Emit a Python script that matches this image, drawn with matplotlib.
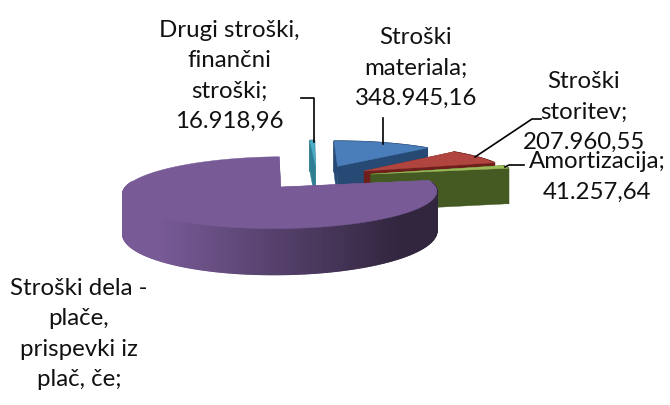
import numpy as np
import matplotlib
matplotlib.use('Agg')
import matplotlib.pyplot as plt
from matplotlib.colors import to_rgb

# values read from the labels, the labour slice has no readable number so it is estimated
names = ['Stroški materiala', 'Stroški storitev', 'Amortizacija', 'Stroški dela', 'Drugi stroški']
values = [348945.16, 207960.55, 41257.64, 2100000.0, 16918.96]

label_texts = ['Stroški\nmateriala;\n348.945,16', 'Stroški\nstoritev;\n207.960,55', 'Amortizacija;\n41.257,64',
               'Stroški dela -\nplače,\nprispevki iz\nplač, če;', 'Drugi stroški,\nfinančni\nstroški;\n16.918,96']
label_x = [416, 584, 597, 79, 229]
label_y = [68, 112, 177, 334, 76]

top_colors = ['#4a7ebb', '#b0453f', '#9bbb59', '#775a96', '#4bacc6']
side_colors = ['#274a75', '#6e1f1c', '#455a22', '#775a96', '#2f7f93']
side_dark = ['#274a75', '#6e1f1c', '#455a22', '#32263f', '#2f7f93']
draw_order = [0, 4, 1, 2, 3]

START_ANGLE = 90.5
EXPLODE = 0.38
X0, Y0 = 317, 177
SX, SY = 148, 32
DEPTH = 37
K = 0.15


def project(u, v, z=0):
    s = 1 / (1 + K * v)
    return X0 + SX * u * s, Y0 - SY * v * s + DEPTH * z * s


def draw_slice(ax, a1, a2, i):
    mid = np.radians((a1 + a2) / 2)
    cu, cv = EXPLODE * np.cos(mid), EXPLODE * np.sin(mid)
    th = np.radians(np.linspace(a1, a2, max(int(abs(a1 - a2) * 2), 6)))
    u = cu + np.cos(th)
    v = cv + np.sin(th)
    ax_, ay_ = project(cu, cv)
    bx_, by_ = project(cu, cv, 1)
    px, py = project(u, v)
    qx, qy = project(u, v, 1)

    # cut faces
    for j in [0, -1]:
        ax.fill([ax_, px[j], qx[j], bx_], [ay_, py[j], qy[j], by_], color=side_colors[i], lw=0.3, zorder=1)

    # outer wall, shaded from left to right
    c1 = np.array(to_rgb(side_colors[i]))
    c2 = np.array(to_rgb(side_dark[i]))
    for j in range(len(th) - 1):
        if np.sin(th[j]) > 0.15 and i == 3:
            continue
        t = np.clip((px[j] - 160) / (400 - 160), 0, 1)
        ax.fill([px[j], px[j + 1], qx[j + 1], qx[j]], [py[j], py[j + 1], qy[j + 1], qy[j]],
                color=c1 + (c2 - c1) * t, lw=1.0, zorder=1)

    ax.fill(np.r_[ax_, px], np.r_[ay_, py], color=top_colors[i], lw=0.3, zorder=1)


fig = plt.figure(figsize=(6.7, 4.05), dpi=100)
ax = fig.add_axes([0, 0, 1, 1])
ax.set_xlim(0, 670)
ax.set_ylim(405, 0)
ax.axis('off')

angles = START_ANGLE - np.r_[0, np.cumsum(values)] / np.sum(values) * 360
for i in draw_order:
    draw_slice(ax, angles[i], angles[i + 1], i)

# leader lines
ax.plot([383, 383], [118, 144], color='black', lw=1.2, zorder=2)
ax.plot([541, 532, 475], [119, 119, 157], color='black', lw=1.2, zorder=2)
ax.plot([505, 509, 524], [167, 165, 165], color='black', lw=1.2, zorder=2)
ax.plot([301, 314, 314], [98, 98, 142], color='black', lw=1.2, zorder=2)

for txt, x, y in zip(label_texts, label_x, label_y):
    ax.text(x, y, txt, ha='center', va='center', fontsize=17.3, family='Lato', color='#111111',
            linespacing=1.54, zorder=3)

fig.savefig('out.png', dpi=100)
